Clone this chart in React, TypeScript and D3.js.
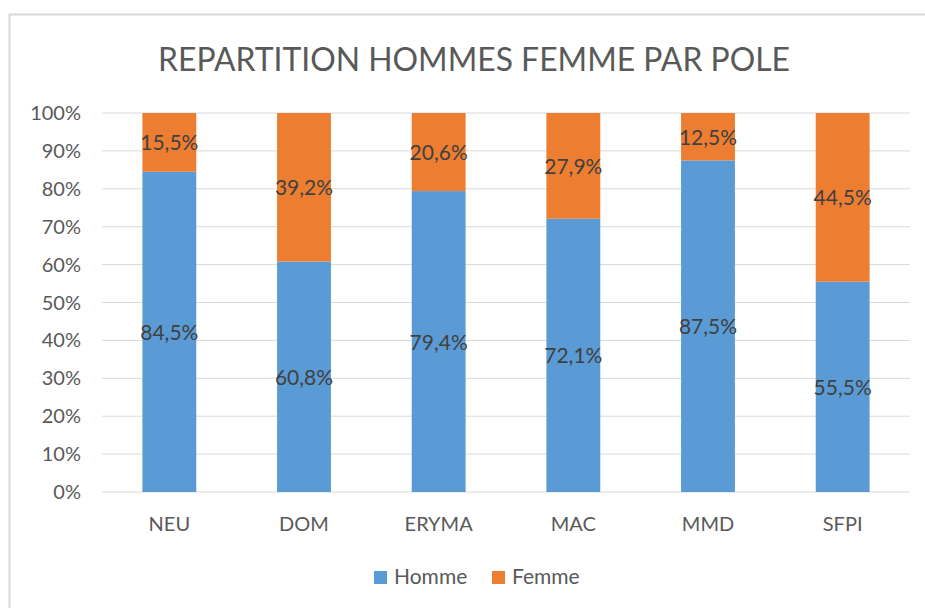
import React from "react";
import * as d3 from "d3";

const categories = ["NEU", "DOM", "ERYMA", "MAC", "MMD", "SFPI"];
const homme = [84.5, 60.8, 79.4, 72.1, 87.5, 55.5];
const femme = [15.5, 39.2, 20.6, 27.9, 12.5, 44.5];
const seriesNames = ["Homme", "Femme"];
const colors = ["#5B9BD5", "#ED7D31"];
const yTicks = [0, 10, 20, 30, 40, 50, 60, 70, 80, 90, 100];
const title = "REPARTITION HOMMES FEMME PAR POLE";

const W = 925, H = 608;
const FONT = "Lato, 'Open Sans', sans-serif";

export default function App() {
  const x = d3.scaleBand<string>().domain(categories).range([102, 910]).paddingInner(0.6).paddingOuter(0.3);
  const y = d3.scaleLinear().domain([0, 100]).range([492, 113]);
  const fmt = (v: number) => v.toFixed(1).replace(".", ",") + "%";
  const stack = d3.stack<any>().keys(["h", "f"])(categories.map((c, i) => ({ c, h: homme[i], f: femme[i] })));
  return (
    <svg width={W} height={H} style={{ position: "absolute", left: 0, top: 0, background: "#fff" }}>
      <rect x={9.5} y={14.5} width={W + 10} height={H + 10} fill="#fff" stroke="#D9D9D9" strokeWidth={2} />
      <text x={474} y={71} textAnchor="middle" fontFamily={FONT} fontSize={32} fill="#595959" textLength={632} lengthAdjust="spacingAndGlyphs">{title}</text>
      {yTicks.map((t) => (
        <g key={t}>
          <line x1={102} x2={910} y1={y(t)} y2={y(t)} stroke="#D9D9D9" strokeWidth={1} />
          <text x={81} y={y(t) + 7} textAnchor="end" fontFamily={FONT} fontSize={20} fill="#595959">{t}%</text>
        </g>
      ))}
      {stack.map((layer, si) => (
        <g key={si}>
          {layer.map((d, i) => (
            <rect key={i} x={x(categories[i])} width={x.bandwidth()} y={y(d[1])} height={y(d[0]) - y(d[1])} fill={colors[si]} />
          ))}
        </g>
      ))}
      {stack.map((layer, si) => (
        <g key={"l" + si}>
          {layer.map((d, i) => (
            <text key={i} x={(x(categories[i]) as number) + x.bandwidth() / 2} y={y((d[0] + d[1]) / 2) + 8} textAnchor="middle" fontFamily={FONT} fontSize={21} fill="#404040">
              {fmt(si === 0 ? homme[i] : femme[i])}
            </text>
          ))}
        </g>
      ))}
      {categories.map((c) => (
        <text key={c} x={(x(c) as number) + x.bandwidth() / 2} y={531} textAnchor="middle" fontFamily={FONT} fontSize={20} fill="#595959">{c}</text>
      ))}
      {seriesNames.map((s, i) => {
        const lx = i === 0 ? 374 : 492;
        return (
          <g key={s}>
            <rect x={lx} y={571} width={13} height={13} fill={colors[i]} />
            <text x={lx + 20} y={584} fontFamily={FONT} fontSize={21} fill="#595959">{s}</text>
          </g>
        );
      })}
    </svg>
  );
}
